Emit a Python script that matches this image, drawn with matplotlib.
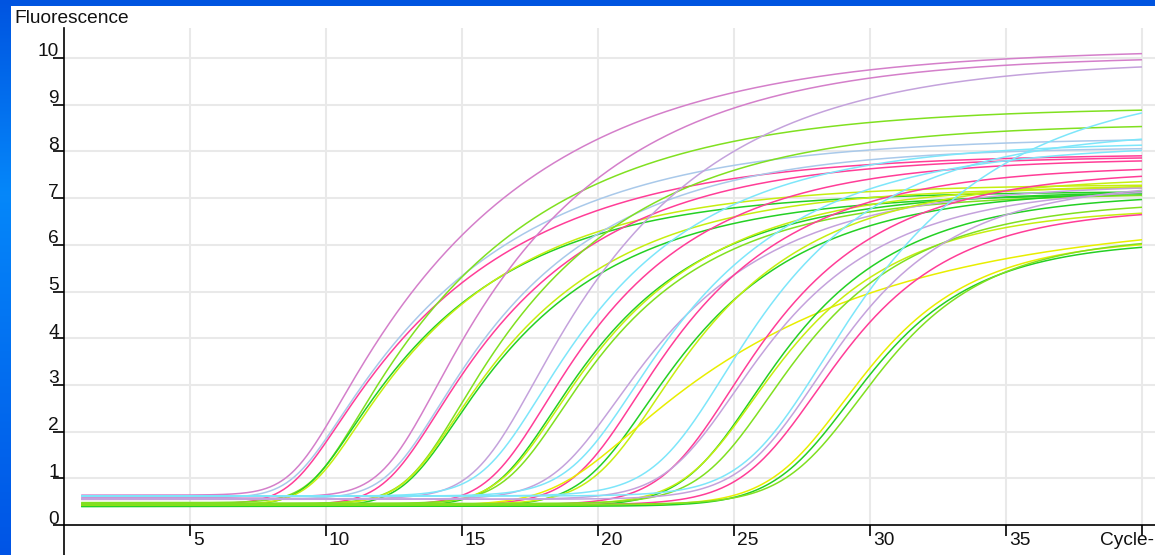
import numpy as np
import matplotlib
matplotlib.use("Agg")
import matplotlib.pyplot as plt
from matplotlib.patches import Rectangle

# ---- amplification data -------------------------------------------------
ORCHID, LAV, LBLUE, CYAN = "#d47fca", "#c4a2dc", "#a9c9ea", "#7de6fa"
PINK, LIME, GREEN, YGREEN, YELLOW = "#ff3d97", "#80e020", "#24d024", "#c6ee10", "#e8ee00"

well_colors = [ORCHID, LBLUE, PINK, LIME, GREEN, YGREEN,
               ORCHID, LBLUE, PINK, LIME, GREEN, YGREEN,
               LAV, CYAN, PINK, GREEN, YGREEN, LIME,
               LAV, CYAN, PINK, GREEN, YGREEN, YELLOW,
               CYAN, PINK, LAV, GREEN, YGREEN, LIME,
               CYAN, LAV, PINK, YELLOW, GREEN, LIME]
# background fluorescence before amplification
baseline = [0.64, 0.58, 0.45, 0.48, 0.42, 0.44,
            0.60, 0.56, 0.43, 0.46, 0.40, 0.44,
            0.56, 0.62, 0.43, 0.40, 0.44, 0.46,
            0.55, 0.62, 0.43, 0.40, 0.44, 0.42,
            0.62, 0.43, 0.55, 0.40, 0.44, 0.46,
            0.62, 0.55, 0.43, 0.42, 0.40, 0.44]
# plateau fluorescence
plateau = [10.2, 8.30, 7.95, 8.95, 7.15, 7.30,
           10.05, 8.10, 7.90, 8.60, 7.10, 7.25,
           9.95, 8.20, 7.85, 7.15, 7.30, 7.10,
           7.30, 8.15, 7.70, 7.20, 7.45, 6.60,
           8.45, 7.60, 7.25, 7.10, 6.80, 6.95,
           9.50, 7.35, 6.80, 6.15, 6.10, 6.20]
# cycle at which each curve crosses fluorescence 3
cross3 = [10.9, 11.35, 11.45, 11.9, 12.1, 12.2,
          14.1, 14.65, 14.75, 15.4, 15.7, 15.6,
          17.6, 18.1, 18.5, 19.0, 19.1, 19.3,
          21.1, 21.4, 21.7, 22.3, 22.5, 23.4,
          24.4, 25.0, 25.2, 26.0, 26.1, 26.6,
          27.7, 27.9, 28.2, 29.5, 29.7, 30.0]
# exponential-phase rate (per cycle)
rise_rate = [1.5] * 6 + [1.3] * 6 + [1.15] * 6 + [1.0] * 5 + [0.9] + [0.9] * 6 + [0.8] * 6
# rate of approach to the plateau (per cycle)
settle_rate = [0.145, 0.16, 0.165, 0.16, 0.19, 0.185,
               0.17, 0.19, 0.19, 0.18, 0.20, 0.20,
               0.175, 0.20, 0.21, 0.22, 0.21, 0.22,
               0.21, 0.20, 0.22, 0.22, 0.22, 0.12,
               0.22, 0.24, 0.24, 0.25, 0.25, 0.25,
               0.19, 0.27, 0.28, 0.30, 0.30, 0.30]

first_cycle, last_cycle = 1, 40
cycle_ticks = [5, 10, 15, 20, 25, 30, 35, 40]
cycle_labels = ["5", "10", "15", "20", "25", "30", "35", "Cycle-"]
fluor_ticks = list(range(0, 11))


def amplification(x, b, p, x3, r1, r2):
    """Asymmetric sigmoid: exponential rise at r1, plateau approach at r2."""
    a = r2 / r1
    f3 = (3.0 - b) / (p - b)
    c = x3 - np.log((1.0 - f3) ** (-1.0 / a) - 1.0) / r1
    u = np.exp(np.clip(r1 * (x - c), -60, 60))
    return b + (p - b) * (1.0 - (1.0 + u) ** (-a))


# ---- figure -------------------------------------------------------------
W, H = 1155, 555
fig = plt.figure(figsize=(W / 100, H / 100), dpi=100)
plt.rcParams["font.family"] = ["Liberation Sans", "DejaVu Sans"]

# blue frame with a soft vertical gradient and the white chart panel
bg = fig.add_axes([0, 0, 1, 1])
grad_y = np.array([0.0, 0.35, 1.0])
grad_c = np.array([[0.00, 0.33, 0.88], [0.02, 0.53, 0.98], [0.00, 0.33, 0.90]])
yy = np.linspace(0, 1, 300)
col = np.stack([np.interp(yy, grad_y, grad_c[:, k]) for k in range(3)], axis=1)
bg.imshow(col[:, None, :], extent=[0, 1, 0, 1], aspect="auto", origin="upper")
bg.add_patch(Rectangle((11 / W, 0), 1 - 11 / W, (H - 6) / H, color="white", lw=0))
bg.set_xlim(0, 1)
bg.set_ylim(0, 1)
bg.axis("off")

# plotting area
px_per_cycle, cycle0_px = 27.2, 54.0
px_per_unit, zero_px = 46.7, 525.0
left_px, top_px = 64, 28
ax = fig.add_axes([left_px / W, 0, 1 - left_px / W, (H - top_px) / H])
ax.set_xlim((left_px - cycle0_px) / px_per_cycle, (W - cycle0_px) / px_per_cycle)
ax.set_ylim((zero_px - H) / px_per_unit, (zero_px - top_px) / px_per_unit)
ax.patch.set_alpha(0)

# grid
grid_kw = dict(color="#e9e9e9", lw=1.5, zorder=0)
ax.vlines(cycle_ticks, 0, ax.get_ylim()[1], **grid_kw)
ax.hlines(fluor_ticks[1:], ax.get_xlim()[0], ax.get_xlim()[1], **grid_kw)

# axes lines
for s in ("top", "right"):
    ax.spines[s].set_visible(False)
ax.spines["bottom"].set_position(("data", 0))
for s in ("left", "bottom"):
    ax.spines[s].set_linewidth(1.2)
    ax.spines[s].set_color("black")
    ax.spines[s].set_zorder(5)

ax.set_xticks(cycle_ticks)
ax.set_xticklabels([])
ax.set_yticks(fluor_ticks)
ax.set_yticklabels([])
ax.tick_params(axis="both", direction="out", length=8, width=1.2, color="black")

fs = 13.8
for v in fluor_ticks:
    ax.annotate(str(v), xy=(0, v), xycoords=("axes fraction", "data"),
                xytext=(-5, 1.5), textcoords="offset pixels",
                ha="right", va="baseline", fontsize=fs, color="#111111")
for v, lab in zip(cycle_ticks, cycle_labels):
    if lab.isdigit():
        ax.annotate(lab, xy=(v, 0), xycoords="data", xytext=(3, -7),
                    textcoords="offset pixels", ha="left", va="top",
                    fontsize=fs, color="#111111")
    else:
        ax.annotate(lab, xy=(v, 0), xycoords="data", xytext=(12, -7),
                    textcoords="offset pixels", ha="right", va="top",
                    fontsize=fs, color="#111111", annotation_clip=False)

fig.text(14 / W, 1 - 10 / H, "Fluorescence", ha="left", va="top",
         fontsize=fs, color="#111111")

# curves
cycles = np.arange(first_cycle, last_cycle + 1e-9, 0.05)
for colr, b, p, x3, r1, r2 in zip(well_colors, baseline, plateau, cross3,
                                   rise_rate, settle_rate):
    ax.plot(cycles, amplification(cycles, b, p, x3, r1, r2),
            color=colr, lw=1.1, zorder=3, solid_capstyle="butt")

fig.savefig("out.png", dpi=100)
